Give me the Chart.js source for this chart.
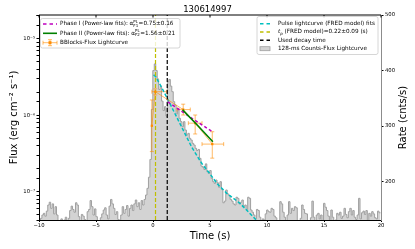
<!DOCTYPE html>
<html>
<head>
<meta charset="utf-8">
<script src="https://cdn.jsdelivr.net/npm/chart.js@4.4.0/dist/chart.umd.min.js"></script>
<style>
html, body { margin: 0; padding: 0; background: #fff; }
#wrap { width: 415px; height: 249px; position: relative; }
</style>
</head>
<body>
<div id="wrap"><canvas id="grb"></canvas></div>
<script>
// 128-ms count rate histogram (cnts/s), first bin starts at -10 s
const binStart = -10;
const binWidth = 0.128;
const rateBins = [
	128,134,140,143,138,147,158,163,152,160,142,155,140,130,126,133,
	128,131,136,129,134,148,156,150,
	145,162,158,137,130,141,138,132,
	128,146,150,166,155,140,151,137,
	130,127,135,142,149,153,140,133,
	156,168,160,152,141,146,132,128,
	140,155,143,150,157,138,152,158,
	148,160,167,155,162,150,166,158,
	168,176,188,208,240,330,400,412,
	400,385,366,372,345,328,335,318,
	380,384,372,362,344,338,322,332,
	314,308,299,308,293,284,287,278,
	275,269,266,260,256,258,242,228,
	226,222,232,218,215,220,206,200,
	197,203,198,190,200,186,162,165,
	185,178,175,168,165,160,158,172,
	170,160,163,167,155,158,150,172,
	170,149,145,140,133,150,148,136,
	128,133,131,142,149,146,145,152,
	150,138,135,128,130,164,160,145,
	136,128,140,164,143,152,148,155,
	153,130,128,134,158,150,143,142,
	128,130,135,165,136,130,140,143,
	133,140,129,161,154,148,138,130,
	149,136,128,131,143,140,145,134,
	138,152,141,135,146,152,140,148,
	136,132,140,170,133,144,147,141,
	148,130,143,138,146,142,135,133,147,144
];

// FRED pulse fit (cnts/s)
const fredTime = [0.05, 0.2, 0.8, 1.3, 1.67, 2.4, 3.4, 4.27, 5.0, 5.6, 6.47, 7.63, 9.06];
const fredRate = [392, 390, 368, 348, 333, 303, 262, 233, 214, 197, 179, 161, 131];

// Bayesian blocks flux (erg cm-2 s-1)
const bbTime   = [-0.1, 0.2, 2.65, 3.7, 5.2];
const bbTimeLo = [-0.1, -0.1, 2.1, 3.1, 4.3];
const bbTimeHi = [-0.1, 1.2, 3.27, 4.3, 6.2];
const bbFlux   = [7.3e-7, 2.04e-6, 1.19e-6, 7.9e-7, 4.2e-7];
const bbFluxLo = [3.35e-7, 1.85e-6, 1.01e-6, 5.7e-7, 2.75e-7];
const bbFluxHi = [1.59e-6, 2.22e-6, 1.40e-6, 1.01e-6, 6.1e-7];

// power-law fits
const phase1Time = [1.3, 3.3, 5.2];
const phase1Flux = [1.5e-6, 9.4e-7, 6.1e-7];
const phase2Time = [2.6, 3.9, 5.25];
const phase2Flux = [1.18e-6, 7.4e-7, 4.5e-7];

const peakTime = 0.22;
const decayTime = 1.25;

const timeTicks = [-10, -5, 0, 5, 10, 15, 20];
const rateTicks = [200, 300, 400, 500];
const fluxTicks = [1e-7, 1e-6, 1e-5];
const fluxTickLabels = ['10⁻⁷', '10⁻⁶', '10⁻⁵'];

const rateMin = 131, rateMax = 500;
const fluxMin = 4.26e-8, fluxMax = 2.06e-5;

const FONT = '"DejaVu Sans", sans-serif';
Chart.defaults.font.family = FONT;
Chart.defaults.color = '#000';

const histPoints = rateBins.map((v, i) => ({ x: binStart + i * binWidth, y: v }));
histPoints.push({ x: binStart + rateBins.length * binWidth, y: rateBins[rateBins.length - 1] });

const xy = (xs, ys) => xs.map((x, i) => ({ x: x, y: ys[i] }));

// error bars of the BBlocks curve, drawn right after the histogram
const errBars = {
	id: 'errBars',
	afterDatasetDraw(chart, args) {
		if (args.index !== 0) return;
		const ctx = chart.ctx, a = chart.chartArea;
		const x = chart.scales.x, y = chart.scales.yL;
		ctx.save();
		ctx.beginPath();
		ctx.rect(a.left, a.top, a.right - a.left, a.bottom - a.top);
		ctx.clip();
		ctx.strokeStyle = 'rgba(255,140,0,0.6)';
		ctx.lineWidth = 1;
		const cap = 2;
		bbTime.forEach((t, i) => {
			const px = x.getPixelForValue(t), py = y.getPixelForValue(bbFlux[i]);
			const xl = x.getPixelForValue(bbTimeLo[i]), xr = x.getPixelForValue(bbTimeHi[i]);
			const yt = y.getPixelForValue(bbFluxHi[i]), yb = y.getPixelForValue(bbFluxLo[i]);
			ctx.beginPath();
			if (xr - xl > 0.5) {
				ctx.moveTo(xl, py); ctx.lineTo(xr, py);
				ctx.moveTo(xl, py - cap); ctx.lineTo(xl, py + cap);
				ctx.moveTo(xr, py - cap); ctx.lineTo(xr, py + cap);
			}
			ctx.moveTo(px, yt); ctx.lineTo(px, yb);
			ctx.moveTo(px - cap, yt); ctx.lineTo(px + cap, yt);
			ctx.moveTo(px - cap, yb); ctx.lineTo(px + cap, yb);
			ctx.stroke();
		});
		ctx.restore();
	}
};

function legendBox(ctx, x, y, w, h) {
	ctx.beginPath();
	ctx.roundRect(x, y, w, h, 2);
	ctx.fillStyle = 'rgba(255,255,255,0.8)';
	ctx.fill();
	ctx.strokeStyle = '#cccccc';
	ctx.lineWidth = 0.8;
	ctx.stroke();
}

function handle(ctx, x0, x1, y, color, dash, width) {
	ctx.save();
	ctx.strokeStyle = color;
	ctx.lineWidth = width;
	ctx.setLineDash(dash);
	ctx.beginPath();
	ctx.moveTo(x0, y);
	ctx.lineTo(x1, y);
	ctx.stroke();
	ctx.restore();
}

// parts: [text, size, dy, italic]
function richText(ctx, x, y, parts) {
	ctx.save();
	ctx.fillStyle = '#000';
	ctx.textBaseline = 'middle';
	ctx.textAlign = 'left';
	let cx = x;
	parts.forEach(p => {
		ctx.font = (p[3] ? 'italic ' : '') + p[1] + 'px ' + FONT;
		if (Array.isArray(p[0])) {
			// stacked super / sub script
			const w = Math.max(ctx.measureText(p[0][0]).width, ctx.measureText(p[0][1]).width);
			ctx.fillText(p[0][0], cx, y - 2);
			ctx.fillText(p[0][1], cx, y + 2);
			cx += w + 0.4;
		} else {
			ctx.fillText(p[0], cx, y + p[2]);
			cx += ctx.measureText(p[0]).width;
		}
	});
	ctx.restore();
}

const decor = {
	id: 'decor',
	afterDraw(chart) {
		const ctx = chart.ctx, a = chart.chartArea, x = chart.scales.x;
		ctx.save();
		// top spine with inward ticks
		ctx.strokeStyle = '#000';
		ctx.lineWidth = 1;
		ctx.beginPath();
		ctx.moveTo(a.left, a.top);
		ctx.lineTo(a.right, a.top);
		timeTicks.forEach(t => {
			const px = x.getPixelForValue(t);
			ctx.moveTo(px, a.top);
			ctx.lineTo(px, a.top + 2.5);
		});
		ctx.stroke();

		// right axis title (reads bottom to top)
		ctx.save();
		ctx.translate(403, (a.top + a.bottom) / 2);
		ctx.rotate(-Math.PI / 2);
		ctx.font = '10px ' + FONT;
		ctx.textAlign = 'center';
		ctx.textBaseline = 'middle';
		ctx.fillStyle = '#000';
		ctx.fillText('Rate (cnts/s)', 0, 0);
		ctx.restore();

		const fs = 5.7, ss = 4;

		// left legend
		legendBox(ctx, 40.5, 18.5, 139.5, 29.5);
		handle(ctx, 43, 57, 24, '#bf00bf', [3.5, 3], 1.5);
		richText(ctx, 60, 24, [['Phase I (Power-law fits): ', fs, 0], ['α', fs, 0], [['PL', 'F1'], ss, 0], ['=0.75±0.16', fs, 0]]);
		handle(ctx, 43, 57, 33.3, '#008000', [], 1.6);
		richText(ctx, 60, 33.3, [['Phase II (Power-law fits): ', fs, 0], ['α', fs, 0], [['PL', 'F2'], ss, 0], ['=1.56±0.21', fs, 0]]);
		ctx.save();
		ctx.strokeStyle = 'rgba(255,140,0,0.6)';
		ctx.lineWidth = 1;
		ctx.beginPath();
		ctx.moveTo(43, 42.7); ctx.lineTo(57, 42.7);
		ctx.moveTo(43, 40.7); ctx.lineTo(43, 44.7);
		ctx.moveTo(57, 40.7); ctx.lineTo(57, 44.7);
		ctx.moveTo(50, 39.7); ctx.lineTo(50, 45.7);
		ctx.moveTo(48, 39.7); ctx.lineTo(52, 39.7);
		ctx.moveTo(48, 45.7); ctx.lineTo(52, 45.7);
		ctx.stroke();
		ctx.fillStyle = '#ff8c00';
		ctx.fillRect(48.5, 41.2, 3, 3);
		ctx.restore();
		richText(ctx, 60, 42.7, [['BBlocks-Flux Lightcurve', fs, 0]]);

		// right legend
		legendBox(ctx, 257, 16.5, 121, 38);
		handle(ctx, 260, 270, 23.7, '#00bfbf', [3.5, 3], 1.5);
		richText(ctx, 278, 23.7, [['Pulse lightcurve (FRED model) fits', fs, 0]]);
		handle(ctx, 260, 270, 32, '#bfbf00', [3.5, 3], 1.5);
		richText(ctx, 278, 32, [['t', fs, 0, true], ['p', ss, 1.5, true], [' (FRED model)=0.22±0.09 (s)', fs, 0]]);
		handle(ctx, 260, 270, 40.3, '#000', [3.5, 3], 1.5);
		richText(ctx, 278, 40.3, [['Used decay time', fs, 0]]);
		ctx.fillStyle = '#d3d3d3';
		ctx.strokeStyle = '#a0a0a0';
		ctx.lineWidth = 0.8;
		ctx.fillRect(260, 46.7, 10, 4);
		ctx.strokeRect(260, 46.7, 10, 4);
		richText(ctx, 278, 48.7, [['128-ms Counts-Flux Lightcurve', fs, 0]]);
		ctx.restore();
	}
};

new Chart(document.getElementById('grb'), {
	type: 'line',
	data: {
		datasets: [
			{
				label: '128-ms Counts-Flux Lightcurve',
				data: histPoints,
				yAxisID: 'yR',
				stepped: true,
				fill: 'start',
				backgroundColor: '#d3d3d3',
				borderColor: '#a0a0a0',
				borderWidth: 1,
				pointRadius: 0,
				order: 10
			},
			{
				label: 'Pulse lightcurve (FRED model) fits',
				data: xy(fredTime, fredRate),
				yAxisID: 'yR',
				borderColor: '#00bfbf',
				borderDash: [3.5, 2],
				borderWidth: 1.5,
				pointRadius: 0,
				fill: false,
				order: 6
			},
			{
				label: 't_p (FRED model)',
				data: xy([peakTime, peakTime], [rateMin, rateMax]),
				yAxisID: 'yR',
				borderColor: '#bfbf00',
				borderDash: [4, 2],
				borderWidth: 1.2,
				pointRadius: 0,
				order: 5
			},
			{
				label: 'Used decay time',
				data: xy([decayTime, decayTime], [rateMin, rateMax]),
				yAxisID: 'yR',
				borderColor: '#000',
				borderDash: [4, 2],
				borderWidth: 1.2,
				pointRadius: 0,
				order: 4
			},
			{
				label: 'BBlocks-Flux Lightcurve',
				data: xy(bbTime, bbFlux),
				yAxisID: 'yL',
				borderColor: 'rgba(255,140,0,0.6)',
				borderWidth: 1,
				pointStyle: 'rect',
				pointRadius: 1.6,
				pointBackgroundColor: '#ff8c00',
				pointBorderColor: '#ff8c00',
				pointBorderWidth: 0,
				order: 3
			},
			{
				label: 'Phase I (Power-law fits)',
				data: xy(phase1Time, phase1Flux),
				yAxisID: 'yL',
				borderColor: '#bf00bf',
				borderDash: [3, 2.5],
				borderWidth: 1.5,
				pointRadius: 0,
				order: 2
			},
			{
				label: 'Phase II (Power-law fits)',
				data: xy(phase2Time, phase2Flux),
				yAxisID: 'yL',
				borderColor: '#008000',
				borderWidth: 1.6,
				pointRadius: 0,
				order: 1
			}
		]
	},
	options: {
		responsive: true,
		maintainAspectRatio: false,
		animation: false,
		events: [],
		layout: { padding: 0 },
		plugins: {
			legend: { display: false },
			tooltip: { enabled: false },
			title: {
				display: true,
				text: '130614997',
				color: '#000',
				font: { size: 8.5, weight: 'normal' },
				padding: { top: 4.2, bottom: 0.6 }
			}
		},
		scales: {
			x: {
				type: 'linear',
				position: 'bottom',
				min: -10,
				max: 20,
				afterBuildTicks: s => { s.ticks = timeTicks.map(v => ({ value: v })); },
				afterFit: s => { s.height = 29; },
				ticks: {
					font: { size: 5.3 },
					padding: 0,
					maxRotation: 0,
					callback: v => v < 0 ? '\u2212' + Math.abs(v) : String(v)
				},
				grid: { drawOnChartArea: false, tickLength: 2, tickColor: '#000' },
				border: { color: '#000', width: 1 },
				title: { display: true, text: 'Time (s)', font: { size: 10 }, padding: { top: 0, bottom: 6.3 } }
			},
			yL: {
				type: 'logarithmic',
				position: 'left',
				min: fluxMin,
				max: fluxMax,
				afterFit: s => { s.width = 39; },
				ticks: {
					autoSkip: false,
					font: { size: 5.3 },
					padding: 1.5,
					callback: v => {
						const k = fluxTicks.findIndex(f => Math.abs(f - v) / f < 1e-6);
						return k < 0 ? '' : fluxTickLabels[k];
					}
				},
				grid: { drawOnChartArea: false, tickLength: 2.5, tickColor: '#000' },
				border: { color: '#000', width: 1 },
				title: { display: true, text: 'Flux (erg cm⁻² s⁻¹)', font: { size: 10 }, padding: { top: 8 } }
			},
			yR: {
				type: 'linear',
				position: 'right',
				min: rateMin,
				max: rateMax,
				afterBuildTicks: s => { s.ticks = rateTicks.map(v => ({ value: v })); },
				afterFit: s => { s.width = 34; },
				ticks: { font: { size: 5.3 }, padding: 1.5 },
				grid: { drawOnChartArea: false, tickLength: 2.5, tickColor: '#000' },
				border: { color: '#8c8c8c', width: 1 }
			}
		}
	},
	plugins: [errBars, decor]
});
</script>
</body>
</html>
